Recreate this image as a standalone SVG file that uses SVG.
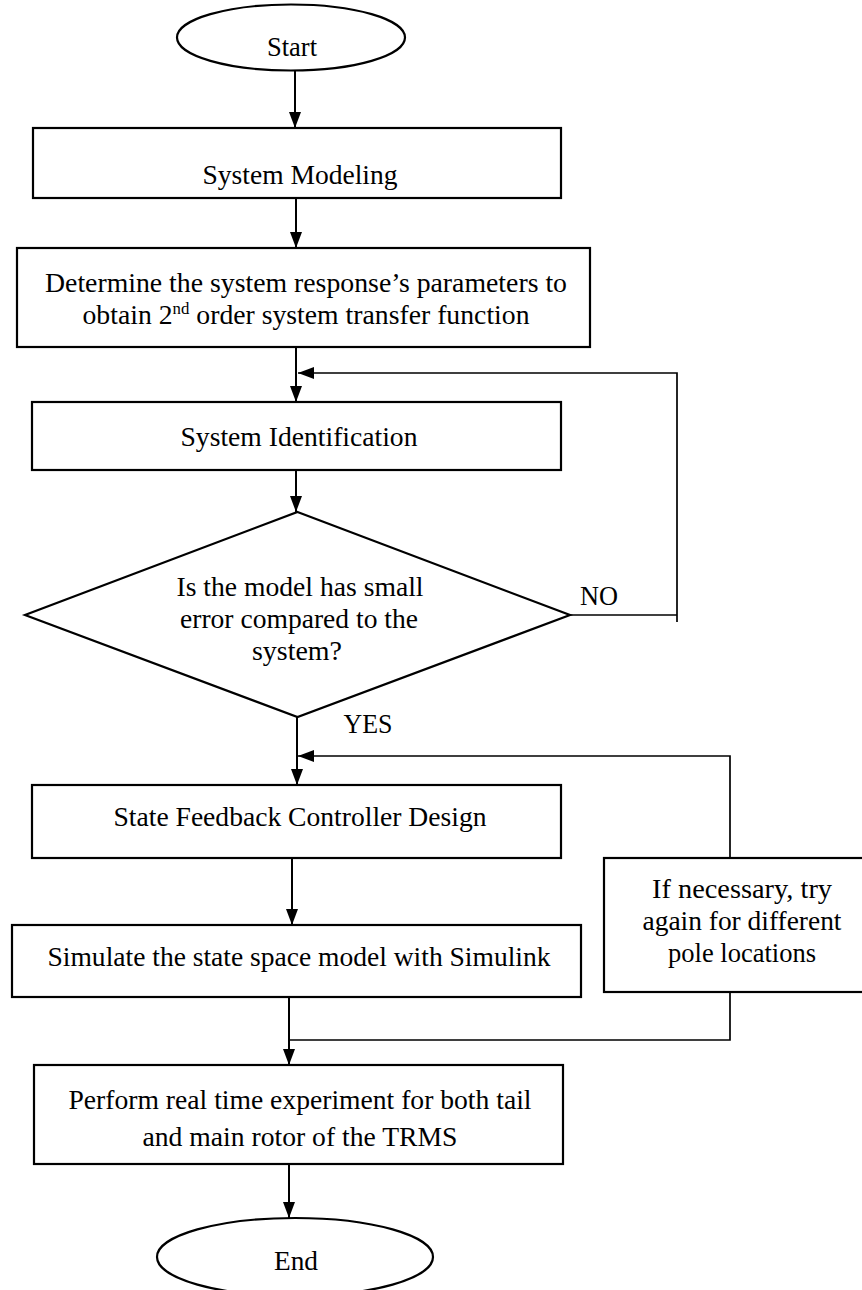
<svg xmlns="http://www.w3.org/2000/svg" width="862" height="1290" viewBox="0 0 862 1290">
  <style>
    .shape { fill: #ffffff; stroke: #000000; stroke-width: 2.2; }
    .conn { fill: none; stroke: #000000; stroke-width: 2; }
    .loop { fill: none; stroke: #000000; stroke-width: 1.7; }
    text { font-family: "Liberation Serif", "Times New Roman", serif; font-size: 28px; fill: #000000; text-anchor: middle; }
  </style>
  <defs>
    <marker id="arrow" markerUnits="userSpaceOnUse" markerWidth="16" markerHeight="12" refX="16" refY="6" orient="auto">
      <path d="M0,0 L16,6 L0,12 z" fill="#000000"/>
    </marker>
  </defs>
  <rect x="0" y="0" width="862" height="1290" fill="#ffffff"/>

  <g id="connectors">
    <line class="conn" x1="295" y1="70" x2="295" y2="128" marker-end="url(#arrow)"/>
    <line class="conn" x1="296" y1="198" x2="296" y2="248" marker-end="url(#arrow)"/>
    <line class="conn" x1="296" y1="347" x2="296" y2="402" marker-end="url(#arrow)"/>
    <line class="conn" x1="296" y1="470" x2="296" y2="512" marker-end="url(#arrow)"/>
    <path class="loop" d="M570,615 H677"/>
    <path class="loop" d="M677,622 V373 H298" marker-end="url(#arrow)"/>
    <line class="conn" x1="297" y1="717" x2="297" y2="785" marker-end="url(#arrow)"/>
    <path class="loop" d="M730,858 V756 H298" marker-end="url(#arrow)"/>
    <line class="conn" x1="292" y1="858" x2="292" y2="925" marker-end="url(#arrow)"/>
    <line class="conn" x1="289" y1="997" x2="289" y2="1065" marker-end="url(#arrow)"/>
    <path class="loop" d="M730,992 V1040 H289"/>
    <line class="conn" x1="289" y1="1164" x2="289" y2="1218" marker-end="url(#arrow)"/>
  </g>

  <g id="start">
    <ellipse class="shape" cx="291" cy="37.5" rx="114" ry="33"/>
    <text x="292" y="56" textLength="50" lengthAdjust="spacingAndGlyphs">Start</text>
  </g>

  <g id="system-modeling">
    <rect class="shape" x="33" y="128" width="528" height="70"/>
    <text x="300" y="184" textLength="195" lengthAdjust="spacingAndGlyphs">System Modeling</text>
  </g>

  <g id="determine">
    <rect class="shape" x="17" y="248" width="573" height="99"/>
    <text x="306" y="292" textLength="522" lengthAdjust="spacingAndGlyphs">Determine the system response’s parameters to</text>
    <text x="306" y="324" textLength="447" lengthAdjust="spacingAndGlyphs">obtain 2<tspan dy="-10" font-size="17">nd</tspan><tspan dy="10"> order system transfer function</tspan></text>
  </g>

  <g id="system-identification">
    <rect class="shape" x="32" y="402" width="529" height="68"/>
    <text x="299" y="446" textLength="237" lengthAdjust="spacingAndGlyphs">System Identification</text>
  </g>

  <g id="decision">
    <polygon class="shape" points="297.5,512 570,615 297.5,717 25,615"/>
    <text x="300" y="596" textLength="247" lengthAdjust="spacingAndGlyphs">Is the model has small</text>
    <text x="299" y="628" textLength="238" lengthAdjust="spacingAndGlyphs">error compared to the</text>
    <text x="297" y="660" textLength="90" lengthAdjust="spacingAndGlyphs">system?</text>
  </g>

  <g id="labels">
    <text x="599" y="605" textLength="38" lengthAdjust="spacingAndGlyphs">NO</text>
    <text x="368" y="733" textLength="49" lengthAdjust="spacingAndGlyphs">YES</text>
  </g>

  <g id="state-feedback">
    <rect class="shape" x="32" y="785" width="529" height="73"/>
    <text x="300" y="826" textLength="373" lengthAdjust="spacingAndGlyphs">State Feedback Controller Design</text>
  </g>

  <g id="simulate">
    <rect class="shape" x="12" y="925" width="569" height="72"/>
    <text x="299" y="966" textLength="503" lengthAdjust="spacingAndGlyphs">Simulate the state space model with Simulink</text>
  </g>

  <g id="retry">
    <rect class="shape" x="604" y="858" width="270" height="134"/>
    <text x="742" y="898" textLength="180" lengthAdjust="spacingAndGlyphs">If necessary, try</text>
    <text x="742" y="930" textLength="199" lengthAdjust="spacingAndGlyphs">again for different</text>
    <text x="742" y="962" textLength="148" lengthAdjust="spacingAndGlyphs">pole locations</text>
  </g>

  <g id="perform">
    <rect class="shape" x="34" y="1065" width="529" height="99"/>
    <text x="300" y="1109" textLength="463" lengthAdjust="spacingAndGlyphs">Perform real time experiment for both tail</text>
    <text x="300" y="1146" textLength="315" lengthAdjust="spacingAndGlyphs">and main rotor of the TRMS</text>
  </g>

  <g id="end">
    <ellipse class="shape" cx="295" cy="1257" rx="138" ry="39"/>
    <text x="296" y="1270" textLength="44" lengthAdjust="spacingAndGlyphs">End</text>
  </g>
</svg>
